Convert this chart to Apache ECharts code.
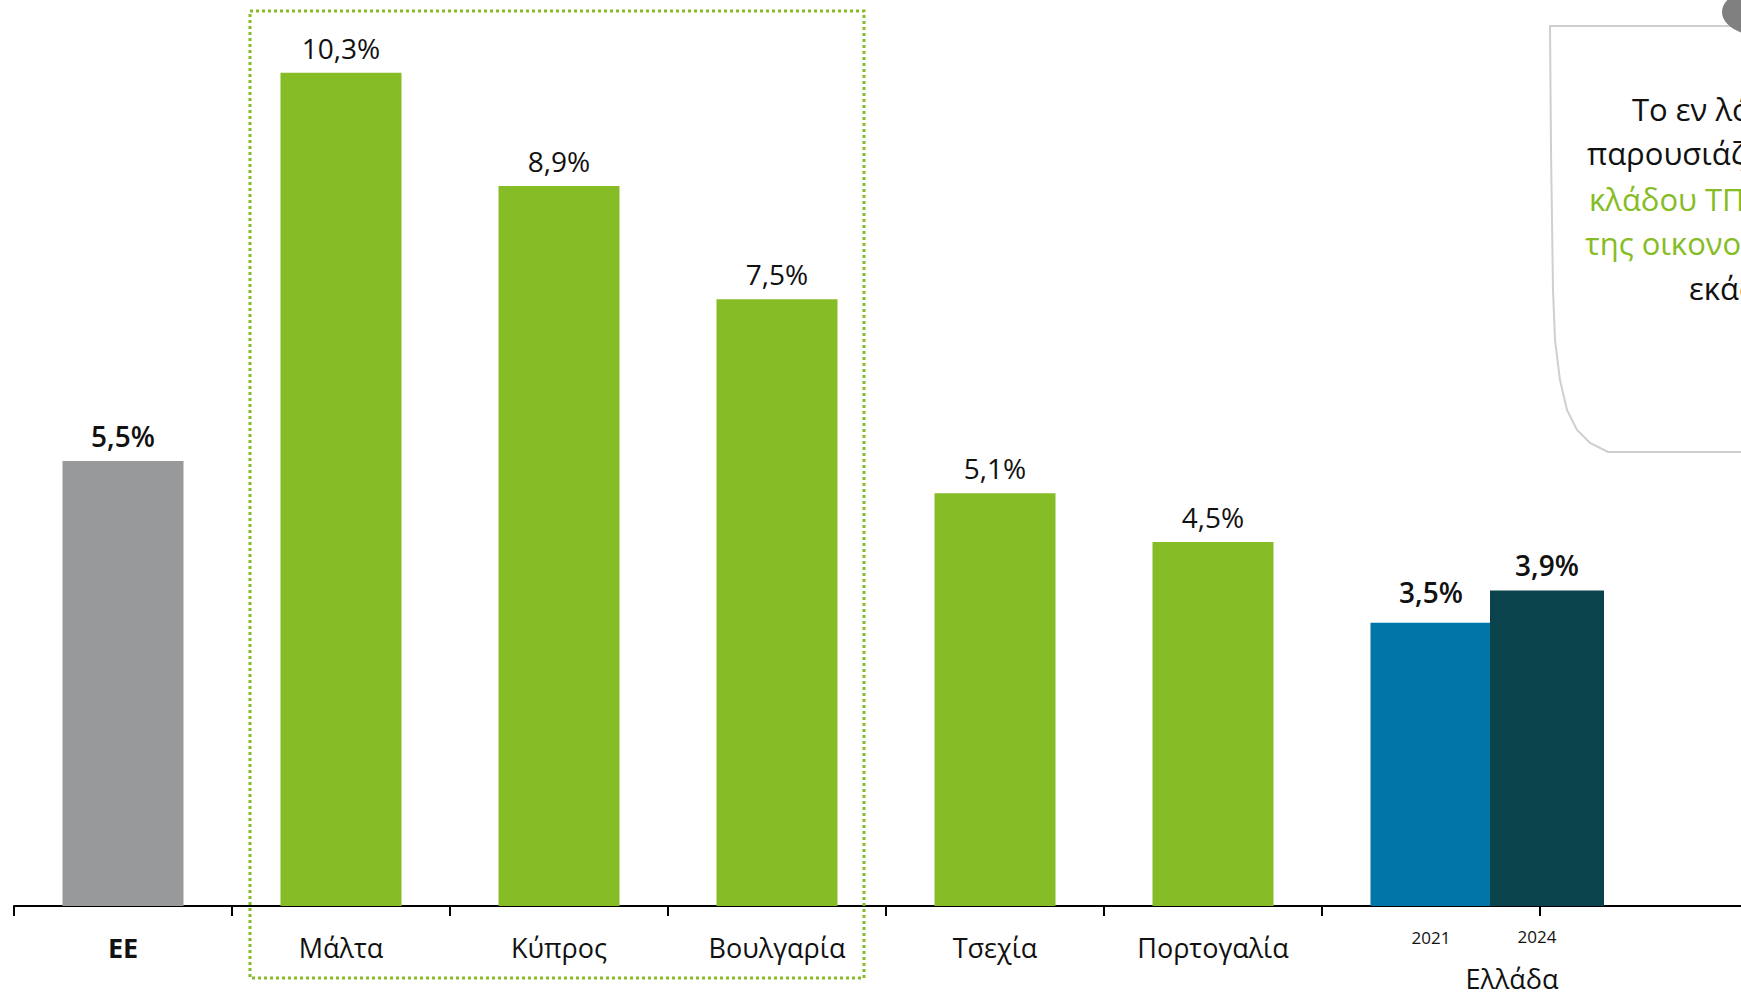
<!DOCTYPE html>
<html>
<head>
<meta charset="utf-8">
<style>
  html, body { margin: 0; padding: 0; background: #fff; }
  #chart { width: 1741px; height: 993px; }
</style>
<script src="https://cdn.jsdelivr.net/npm/echarts@6/dist/echarts.min.js"></script>
</head>
<body>
<div id="chart"></div>
<script>
// categories along the axis (the last slot belongs to the 2024 overlay bar)
const categories = ["EE", "Μάλτα", "Κύπρος", "Βουλγαρία", "Τσεχία", "Πορτογαλία", "2021", ""];
const values = [5.5, 10.3, 8.9, 7.5, 5.1, 4.5, 3.5, "-"];
const greeceCategory = ["2024"];
const greeceValue = [3.9];
const groupLabel = "Ελλάδα";
const noteLines = [
  "Το εν λόγω ποσοστό",
  "παρουσιάζει τη συμβολή του",
  "κλάδου ΤΠΕ στο ΑΕΠ",
  "της οικονομίας κάθε χώρας",
  "εκάστοτε"
];

const GREEN = "#86BC25";
const GRAY = "#97999B";
const BLUE = "#0076A8";
const DARK = "#0B434C";
const FONT = "'Open Sans', 'Noto Sans', sans-serif";

const barColors = [GRAY, GREEN, GREEN, GREEN, GREEN, GREEN, BLUE, GREEN];
const boldIdx = [0, 6];

const fmt = (p) => String(p.value).replace(".", ",") + "%";

const chart = echarts.init(document.getElementById("chart"), null, { renderer: "svg" });

chart.setOption({
  animation: false,
  backgroundColor: "#fff",
  grid: [
    // the plot runs past the right edge (the picture is cropped there)
    { left: 14, top: 16, width: 1744, bottom: 87, containLabel: false, outerBoundsMode: "none" },
    { left: 1490, top: 16, width: 114, bottom: 87, containLabel: false, outerBoundsMode: "none" }
  ],
  xAxis: [
    {
      type: "category",
      gridIndex: 0,
      data: categories.map((c) => {
        if (c === "EE") return { value: c, textStyle: { fontWeight: "bold" } };
        if (c === "2021") return { value: c, textStyle: { fontSize: 17, lineHeight: 6 } };
        return c;
      }),
      axisLine: { lineStyle: { color: "#000", width: 2 } },
      axisTick: { show: true, length: 10, lineStyle: { color: "#000", width: 2 } },
      axisLabel: { margin: 28, fontSize: 27, color: "#111", fontFamily: FONT, interval: 0 }
    },
    {
      type: "category",
      gridIndex: 1,
      data: greeceCategory,
      axisLine: { show: false },
      axisTick: { show: false },
      axisLabel: { margin: 22, fontSize: 17, color: "#111", fontFamily: FONT, padding: [0, 20, 0, 0] }
    }
  ],
  yAxis: [
    { type: "value", gridIndex: 0, min: 0, max: 11, show: false },
    { type: "value", gridIndex: 1, min: 0, max: 11, show: false }
  ],
  series: [
    {
      type: "bar",
      xAxisIndex: 0,
      yAxisIndex: 0,
      barWidth: 121,
      data: values.map((v, i) => ({
        value: v,
        itemStyle: { color: barColors[i] },
        label: {
          fontWeight: boldIdx.includes(i) ? 600 : "normal",
          distance: i === 6 ? 17 : 11
        }
      })),
      label: {
        show: true,
        position: "top",
        distance: 11,
        fontSize: 28,
        color: "#111",
        fontFamily: FONT,
        formatter: fmt
      }
    },
    {
      type: "bar",
      xAxisIndex: 1,
      yAxisIndex: 1,
      barWidth: "100%",
      data: greeceValue,
      itemStyle: { color: DARK },
      label: {
        show: true,
        position: "top",
        distance: 11,
        fontSize: 28,
        fontWeight: 600,
        color: "#111",
        fontFamily: FONT,
        formatter: fmt
      }
    }
  ],
  graphic: [
    // dotted frame around the top three countries
    {
      type: "rect",
      shape: { x: 250, y: 11, width: 614, height: 967 },
      style: { fill: "none", stroke: GREEN, lineWidth: 3, lineDash: [3, 3] },
      z: 10
    },
    {
      type: "text",
      style: { x: 1512, y: 978, text: groupLabel, fontSize: 27, fill: "#111",
               fontFamily: FONT, textAlign: "center", textVerticalAlign: "middle" }
    },
    // note card at top right
    {
      type: "polyline",
      shape: {
        points: [[1760, 26], [1550, 26], [1551, 150], [1553, 290], [1555, 340],
                 [1560, 380], [1567, 410], [1577, 430], [1590, 443], [1608, 452], [1760, 452]]
      },
      style: { fill: null, stroke: "#CFCFCF", lineWidth: 2 },
      z: 5
    },
    {
      type: "circle",
      x: 1762, y: 12, scaleY: 0.6,
      shape: { cx: 0, cy: 0, r: 40 },
      style: { fill: "#808080" },
      z: 6
    },
    { type: "text", z: 7, style: { x: 1632, y: 109, text: noteLines[0], fontSize: 31, fill: "#111", fontFamily: FONT, textVerticalAlign: "middle" } },
    { type: "text", z: 7, style: { x: 1587, y: 153, text: noteLines[1], fontSize: 31, fill: "#111", fontFamily: FONT, textVerticalAlign: "middle" } },
    { type: "text", z: 7, style: { x: 1589, y: 199, text: noteLines[2], fontSize: 31, fill: GREEN, fontFamily: FONT, textVerticalAlign: "middle" } },
    { type: "text", z: 7, style: { x: 1585, y: 243, text: noteLines[3], fontSize: 31, fill: GREEN, fontFamily: FONT, textVerticalAlign: "middle" } },
    { type: "text", z: 7, style: { x: 1689, y: 288, text: noteLines[4], fontSize: 31, fill: "#111", fontFamily: FONT, textVerticalAlign: "middle" } }
  ]
});
</script>
</body>
</html>
